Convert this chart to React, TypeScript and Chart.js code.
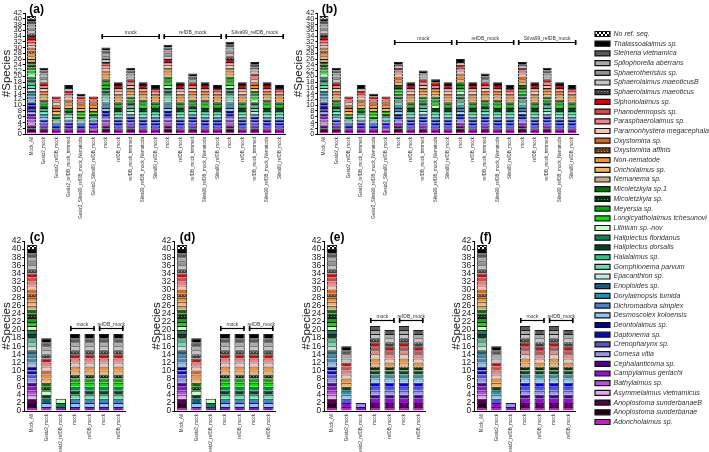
import React, { useEffect, useRef } from 'react';
import { Chart, registerables } from 'chart.js';

Chart.register(...registerables);

const FONT = '"Liberation Sans", Arial, sans-serif';

// species in stacking order (bottom -> top); the legend lists them top -> bottom
const SPECIES = [
  'Adoncholaimus sp.',
  'Anoplostoma sunderbanae',
  'Anoplostoma sunderbanaeB',
  'Asymmelaimus vietnamicus',
  'Bathylaimus sp.',
  'Campylaimus gerlachi',
  'Cephalanticoma sp.',
  'Comesa vitia',
  'Crenopharynx sp.',
  'Daptonema sp.',
  'Deontolaimus sp.',
  'Desmoscolex koloensis',
  'Dichromadora simplex',
  'Dorylaimopsis tumida',
  'Enoploides sp.',
  'Epacanthion sp.',
  'Gomphionema parvum',
  'Halalaimus sp.',
  'Haliplectus dorsalis',
  'Haliplectus floridanus',
  'Litinium sp.-nov',
  'Longicyatholaimus tchesunovi',
  'Meyersia sp.',
  'Micoletzkyia sp.',
  'Micoletzkyia sp.1',
  'Nemanema sp.',
  'Oncholaimus sp.',
  'Non-nematode',
  'Oxystomina affinis',
  'Oxystomina sp.',
  'Paramonhystera megacephala',
  'Parasphaerolaimus sp.',
  'Phanodermopsis sp.',
  'Siphonolaimus sp.',
  'Sphaerolaimus maeoticus',
  'Sphaerolaimus maeoticusB',
  'Sphaerotheristus sp.',
  'Spilophorella aberrans',
  'Steineria vietnamica',
  'Thalassoalaimus sp.',
  'No ref. seq.',
];

const COLORS = [
  '#c21fc4', '#220018', '#520052', '#e2a6f2', '#b455d4', '#8e0fd0', '#500090', '#9595f0',
  '#5555d5', '#0000f0', '#000090', '#94c4f2', '#4682c4', '#1a92b2', '#106282', '#c4eade',
  '#62e2b2', '#32c282', '#004420', '#108252', '#c4ffc4', '#00e400', '#00b000', 'dots:#003800',
  '#007200', '#c8aa82', '#f8b262', '#f89222', 'dots:#7a3a10', '#e86212', '#f8c4b4', '#f28484',
  '#d24a4a', '#e20000', 'dots:#404040', '#c4c4c4', '#929292', '#aaaaaa', '#5a5a5a', '#000000',
  'checker',
];

const CATS_AB = [
  'Mock_All', 'Gesiz2_mock', 'Gesiz2_refDB_mock', 'Gesiz2_refDB_mock_trimmed',
  'Gesiz2_Silva99_refDB_mock_Nematoda', 'Gesiz2_Silva99_refDB_mock',
  'mock', 'refDB_mock', 'refDB_mock_trimmed', 'Silva99_refDB_mock_Nematoda', 'Silva99_refDB_mock',
  'mock', 'refDB_mock', 'refDB_mock_trimmed', 'Silva99_refDB_mock_Nematoda', 'Silva99_refDB_mock',
  'mock', 'refDB_mock', 'refDB_mock_trimmed', 'Silva99_refDB_mock_Nematoda', 'Silva99_refDB_mock',
];
const CATS_CF = ['Mock_All', 'Gesiz2_mock', 'Gesiz2_refDB_mock', 'mock', 'refDB_mock', 'mock', 'refDB_mock'];

const GROUPS_AB = [
  { from: 6, to: 10, text: 'mock' },
  { from: 11, to: 15, text: 'refDB_mock' },
  { from: 16, to: 20, text: 'Silva99_refDB_mock' },
];
const GROUPS_CF = [
  { from: 3, to: 4, text: 'mock' },
  { from: 5, to: 6, text: 'refDB_mock' },
];

// species detected in each bar (indices into SPECIES)
const MOCK_ALL = [0,1,2,3,4,5,6,7,8,9,10,11,12,13,14,15,16,17,18,19,20,21,22,23,24,25,26,27,28,29,30,31,32,33,34,35,36,37,38,39,40];
const G_MOCK_23 = [0,2,5,8,9,11,13,16,17,18,22,24,26,27,29,30,31,33,35,36,37,38,39];
const G_REF_13 = [0,5,9,12,16,18,22,26,27,29,30,31,33];
const G_TRIM_17 = [0,5,6,9,12,15,16,18,22,26,27,29,30,31,33,37,39];
const G_SNEM_14 = [0,5,9,12,16,18,21,22,26,27,29,31,33,39];
const G_SREF_13 = [0,4,5,9,12,16,18,22,26,27,29,31,33];
const REF_18 = [0,5,8,9,10,12,16,17,18,22,24,26,27,29,30,31,33,39];
const SNEM_18 = [0,5,8,9,10,12,16,17,18,21,22,24,26,27,29,31,33,39];
const SREF_17 = [0,5,8,9,10,12,16,17,18,22,24,26,27,29,31,33,39];
const A_MOCK_30 = [0,1,2,4,5,7,9,10,11,12,13,15,16,17,18,19,21,22,24,26,27,29,30,31,33,35,36,37,38,39];
const A_MOCK_31 = [0,1,2,4,5,7,9,10,11,12,13,15,16,17,18,19,20,21,22,24,26,27,29,30,31,33,35,36,37,38,39];
const A_MOCK_32 = [0,1,2,4,5,7,9,10,11,12,13,15,16,17,18,19,20,21,22,24,26,27,29,30,31,33,34,35,36,37,38,39];
const TRIM_23 = [0,2,5,8,9,10,12,15,16,17,18,22,24,26,27,29,30,31,33,35,37,38,39];
const TRIM_21 = [0,2,5,8,9,10,12,16,17,18,22,24,26,27,29,30,31,33,37,38,39];
const TRIM_25 = [0,2,5,8,9,10,12,15,16,17,18,20,21,22,24,26,27,29,30,31,33,35,37,38,39];
const B_MOCK_25 = [0,1,2,5,7,9,10,11,12,13,16,17,18,19,21,22,24,26,27,29,30,31,33,37,39];
const B_MOCK_26 = [0,1,2,5,7,9,10,11,12,13,16,17,18,19,20,21,22,24,26,27,29,30,31,33,37,39];
const B_TRIM_22 = [0,2,5,8,9,10,12,15,16,17,18,22,24,26,27,29,30,31,33,35,37,39];
const B_SNEM_19 = [0,5,8,9,10,12,16,17,18,20,21,22,24,26,27,29,31,33,39];
const C_GMOCK_18 = [0,11,14,18,20,23,24,26,27,29,30,31,33,34,35,37,38,39];
const C_GREF_3 = [5,19,20];
const C_MOCK_19 = [5,11,12,16,18,19,21,22,23,26,27,30,31,33,34,35,37,38,39];
const E_GMOCK_16 = [0,5,8,11,13,18,26,27,30,31,32,33,35,37,38,39];
const E_GREF_2 = [5,7];
const E_MOCK_21 = [0,2,5,6,7,8,9,11,13,18,23,26,27,30,31,32,33,34,35,37,38];
const E_REF_20 = [0,2,5,6,7,8,9,11,13,18,23,27,30,31,32,33,34,35,37,38];

const BARS_A = [MOCK_ALL, G_MOCK_23, G_REF_13, G_TRIM_17, G_SNEM_14, G_SREF_13,
  A_MOCK_30, REF_18, TRIM_23, SNEM_18, SREF_17,
  A_MOCK_31, REF_18, TRIM_21, SNEM_18, SREF_17,
  A_MOCK_32, REF_18, TRIM_25, SNEM_18, SREF_17];
const BARS_B = [MOCK_ALL, G_MOCK_23, G_REF_13, G_TRIM_17, G_SNEM_14, G_SREF_13,
  B_MOCK_25, REF_18, B_TRIM_22, B_SNEM_19, REF_18,
  B_MOCK_26, REF_18, TRIM_21, SNEM_18, SREF_17,
  B_MOCK_25, REF_18, TRIM_23, SNEM_18, SREF_17];
const BARS_C = [MOCK_ALL, C_GMOCK_18, C_GREF_3, C_MOCK_19, C_MOCK_19, C_MOCK_19, C_MOCK_19];
const BARS_D = [MOCK_ALL, C_GMOCK_18, C_GREF_3, C_MOCK_19, C_MOCK_19, C_MOCK_19, C_MOCK_19];
const BARS_E = [MOCK_ALL, E_GMOCK_16, E_GREF_2, E_MOCK_21, E_REF_20, E_MOCK_21, E_REF_20];
const BARS_F = [MOCK_ALL, E_GMOCK_16, E_GREF_2, E_MOCK_21, E_REF_20, E_MOCK_21, E_REF_20];

function makeFill(spec: string): any {
  if (spec === 'checker') {
    const c = document.createElement('canvas');
    c.width = 4; c.height = 4;
    const g = c.getContext('2d')!;
    g.fillStyle = '#ffffff'; g.fillRect(0, 0, 4, 4);
    g.fillStyle = '#000000'; g.fillRect(0, 0, 2, 2); g.fillRect(2, 2, 2, 2);
    return g.createPattern(c, 'repeat');
  }
  if (spec.startsWith('dots:')) {
    const col = spec.slice(5);
    const c = document.createElement('canvas');
    c.width = 3; c.height = 3;
    const g = c.getContext('2d')!;
    g.fillStyle = col; g.fillRect(0, 0, 3, 3);
    g.fillStyle = 'rgba(255,255,255,0.45)'; g.fillRect(1, 1, 1, 1);
    return g.createPattern(c, 'repeat');
  }
  return spec;
}

const BAR_PCT = 0.72;

const decoPlugin = {
  id: 'deco',
  afterDatasetsDraw(chart: any, _args: any, opts: any) {
    if (!opts || !opts.label) return;
    const { ctx } = chart;
    const x = chart.scales.x;
    const y = chart.scales.y;
    const catW = x.getPixelForValue(1) - x.getPixelForValue(0);
    const half = (catW * BAR_PCT) / 2;
    ctx.save();
    ctx.fillStyle = '#000';
    ctx.font = `bold 12px ${FONT}`;
    ctx.textAlign = 'left';
    ctx.textBaseline = 'alphabetic';
    ctx.fillText(opts.label, chart.chartArea.left + opts.labelDx, y.getPixelForValue(42) - 0.5);
    const yy = Math.round(y.getPixelForValue(opts.level)) + 0.5;
    for (const b of opts.groups) {
      const x1 = x.getPixelForValue(b.from) - half;
      const x2 = x.getPixelForValue(b.to) + half;
      ctx.strokeStyle = '#000';
      ctx.lineWidth = 1.2;
      ctx.beginPath();
      ctx.moveTo(x1, yy); ctx.lineTo(x2, yy);
      ctx.stroke();
      ctx.lineWidth = 1.6;
      ctx.beginPath();
      ctx.moveTo(x1 + 0.8, yy - 2.5); ctx.lineTo(x1 + 0.8, yy + 2.5);
      ctx.moveTo(x2 - 0.8, yy - 2.5); ctx.lineTo(x2 - 0.8, yy + 2.5);
      ctx.stroke();
      ctx.fillStyle = '#333';
      ctx.font = `5px ${FONT}`;
      ctx.textAlign = 'center';
      ctx.fillText(b.text, (x1 + x2) / 2, yy - 3);
    }
    ctx.restore();
  },
};

type PanelProps = {
  left: number; top: number; width: number; height: number;
  yW: number; padTop: number; padRight: number; xH: number;
  cats: string[]; bars: number[][]; label: string; groups: any[]; level: number;
  tickSize: number; labelDx: number;
};

function Panel(p: PanelProps) {
  const ref = useRef<HTMLCanvasElement>(null);
  useEffect(() => {
    const datasets = SPECIES.map((name, s) => ({
      label: name,
      data: p.bars.map((list) => (list.includes(s) ? 1 : null)),
      backgroundColor: makeFill(COLORS[s]),
      borderColor: '#1c1c1c',
      borderWidth: 1,
      stack: 'all',
      barPercentage: BAR_PCT,
      categoryPercentage: 1,
    }));
    const chart = new Chart(ref.current!, {
      type: 'bar',
      data: { labels: p.cats, datasets: datasets as any },
      plugins: [decoPlugin as any],
      options: {
        animation: false,
        responsive: false,
        devicePixelRatio: 1,
        layout: { padding: { left: 0, top: p.padTop, right: p.padRight, bottom: 0 } },
        plugins: {
          legend: { display: false },
          tooltip: { enabled: false },
          deco: { label: p.label, groups: p.groups, level: p.level, labelDx: p.labelDx },
        } as any,
        scales: {
          x: {
            stacked: true,
            grid: { display: true, drawOnChartArea: false, drawTicks: false, color: '#000' },
            border: { display: true, color: '#000', width: 1 },
            ticks: {
              autoSkip: false, maxRotation: 90, minRotation: 90, padding: 3,
              color: '#333', font: { size: 4.5, family: FONT },
            },
            afterFit: (s: any) => { s.height = p.xH; },
          },
          y: {
            stacked: true,
            min: 0,
            max: 42,
            ticks: {
              stepSize: 2, autoSkip: false, maxTicksLimit: 50, padding: 1,
              color: '#222', font: { size: p.tickSize, family: FONT },
            },
            grid: { display: true, drawOnChartArea: false, drawTicks: true, tickLength: 2.5, color: '#000' },
            border: { display: true, color: '#000', width: 1 },
            title: {
              display: true, text: '#Species', color: '#222',
              font: { size: 11.5, family: FONT }, padding: { top: 0, bottom: 0 },
            },
            afterFit: (s: any) => { s.width = p.yW; },
          },
        },
      } as any,
    });
    return () => chart.destroy();
  }, []);
  return (
    <canvas
      ref={ref}
      width={p.width}
      height={p.height}
      style={{ position: 'absolute', left: p.left, top: p.top, width: p.width, height: p.height }}
    />
  );
}

function LegendPanel() {
  const ref = useRef<HTMLCanvasElement>(null);
  useEffect(() => {
    const datasets = SPECIES.map((name, s) => ({
      label: name,
      data: [],
      backgroundColor: makeFill(COLORS[s]),
      borderColor: '#111',
      borderWidth: 1.2,
    }));
    const chart = new Chart(ref.current!, {
      type: 'bar',
      data: { labels: [], datasets: datasets as any },
      options: {
        animation: false,
        responsive: false,
        devicePixelRatio: 1,
        layout: { padding: { left: 7.3, top: 27.8, right: 0, bottom: 0 } },
        scales: { x: { display: false }, y: { display: false } },
        plugins: {
          tooltip: { enabled: false },
          legend: {
            display: true,
            position: 'left',
            align: 'start',
            reverse: true,
            maxWidth: 124,
            labels: {
              boxWidth: 15,
              boxHeight: 5,
              padding: 2.7,
              color: '#333',
              font: { size: 7, style: 'italic', family: FONT },
            },
          },
        },
      } as any,
    });
    return () => chart.destroy();
  }, []);
  return (
    <canvas
      ref={ref}
      width={124}
      height={452}
      style={{ position: 'absolute', left: 585, top: 0, width: 124, height: 452 }}
    />
  );
}

export default function App() {
  const top = { top: 0, width: 290, height: 225, padTop: 13, xH: 91, tickSize: 7.5, cats: CATS_AB, groups: GROUPS_AB };
  const bot = { top: 225, width: 135, height: 227, padTop: 16, xH: 41, tickSize: 8.5, cats: CATS_CF, groups: GROUPS_CF, yW: 24.8, padRight: 9.4, labelDx: 5 };
  return (
    <div style={{ position: 'absolute', left: 0, top: 0, width: 709, height: 452, background: '#fff', overflow: 'hidden' }}>
      <Panel {...top} left={0} yW={25.3} padRight={4.3} bars={BARS_A} label="(a)" level={34} labelDx={4} />
      <Panel {...top} left={292} yW={25.8} padRight={3.8} bars={BARS_B} label="(b)" level={32} labelDx={4} />
      <Panel {...bot} left={0} bars={BARS_C} label="(c)" level={20.5} />
      <Panel {...bot} left={150} bars={BARS_D} label="(d)" level={20.5} />
      <Panel {...bot} left={300} bars={BARS_E} label="(e)" level={22.5} />
      <Panel {...bot} left={450} bars={BARS_F} label="(f)" level={22.5} />
      <LegendPanel />
    </div>
  );
}
